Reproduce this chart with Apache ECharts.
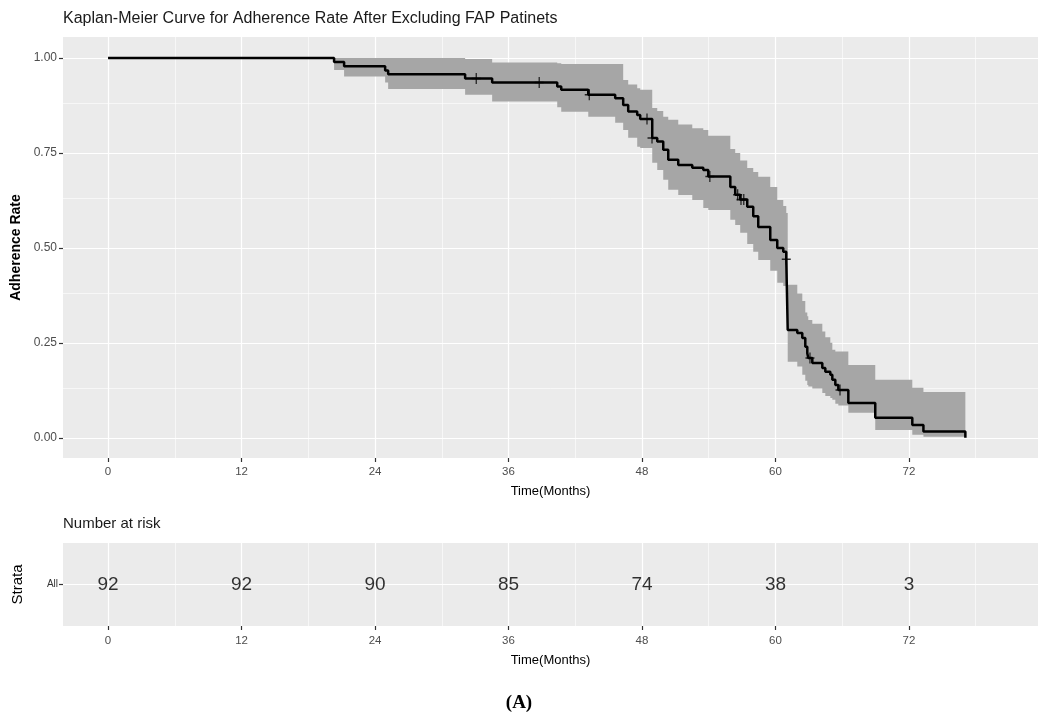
<!DOCTYPE html>
<html><head><meta charset="utf-8">
<script src="https://cdn.jsdelivr.net/npm/echarts@6/dist/echarts.min.js"></script>
<style>html,body{margin:0;padding:0;background:#fff}#c{width:1038px;height:725px}</style>
</head><body><div id="c"></div>
<script>
// Kaplan-Meier step times (months) and survival after each step
const kmTime = [0, 20.32, 21.22, 24.91, 25.18, 32.10, 34.53, 40.38, 40.74, 43.17, 45.59, 46.31, 46.76, 47.57, 47.84, 48.92, 49.37, 49.91, 50.36, 51.26, 52.52, 53.51, 53.96, 55.94, 56.38, 56.83, 57.46, 58.00, 58.45, 59.53, 60.16, 60.70, 60.97, 61.10, 61.96, 62.41, 62.68, 62.86, 62.95, 63.31, 64.21, 64.48, 64.93, 65.11, 65.38, 65.65, 66.55, 68.97, 72.30, 73.30, 77.07];
const kmSurv = [1, 0.989, 0.978, 0.967, 0.957, 0.946, 0.935, 0.925, 0.916, 0.903, 0.894, 0.876, 0.859, 0.850, 0.839, 0.789, 0.780, 0.758, 0.732, 0.718, 0.711, 0.705, 0.688, 0.660, 0.640, 0.627, 0.608, 0.583, 0.555, 0.521, 0.500, 0.490, 0.470, 0.284, 0.276, 0.263, 0.240, 0.223, 0.210, 0.197, 0.184, 0.174, 0.166, 0.153, 0.139, 0.126, 0.092, 0.053, 0.034, 0.017, 0.000];
const ciUpper = [1, 1, 1, 1, 1, 0.997, 0.988, 0.986, 0.984, 0.984, 0.984, 0.942, 0.930, 0.920, 0.916, 0.868, 0.860, 0.845, 0.837, 0.825, 0.815, 0.810, 0.795, 0.760, 0.750, 0.730, 0.710, 0.700, 0.687, 0.660, 0.626, 0.610, 0.592, 0.403, 0.380, 0.360, 0.330, 0.320, 0.310, 0.300, 0.280, 0.265, 0.250, 0.232, 0.227, 0.227, 0.192, 0.153, 0.132, 0.121, 0.121];
const ciLower = [1, 0.968, 0.951, 0.935, 0.918, 0.903, 0.885, 0.870, 0.858, 0.845, 0.829, 0.810, 0.790, 0.766, 0.763, 0.724, 0.705, 0.679, 0.653, 0.639, 0.626, 0.605, 0.600, 0.574, 0.560, 0.540, 0.510, 0.490, 0.468, 0.440, 0.408, 0.400, 0.397, 0.200, 0.188, 0.166, 0.150, 0.139, 0.135, 0.130, 0.118, 0.110, 0.105, 0.100, 0.090, 0.085, 0.066, 0.021, 0.008, 0.003, 0.003];
// Censored observations
const censorTime = [33.1, 38.76, 43.26, 48.45, 48.9, 54.1, 56.6, 56.9, 57.15, 60.97, 63.1, 65.8];
const censorSurv = [0.946, 0.935, 0.903, 0.839, 0.789, 0.688, 0.640, 0.627, 0.627, 0.470, 0.210, 0.126];
// Axes
const xTicks = [0, 12, 24, 36, 48, 60, 72];
const xMinor = [6, 18, 30, 42, 54, 66, 78];
const yTicks = [0, 0.25, 0.5, 0.75, 1];
const yMinor = [0.125, 0.375, 0.625, 0.875];
// Risk table
const riskTimes = [0, 12, 24, 36, 48, 60, 72];
const riskCounts = [92, 92, 90, 85, 74, 38, 3];
const strata = ['All'];

const FONT = "'Liberation Sans', Arial, sans-serif";
const X_MIN = -4.05, X_MAX = 83.6;

function gridLines(xs, ys, w) {
  const d = [];
  xs.forEach(v => d.push({ xAxis: v, lineStyle: { width: w } }));
  ys.forEach(v => d.push({ yAxis: v, lineStyle: { width: w } }));
  return d;
}

function bandItem(params, api) {
  const up = [], lo = [];
  for (let i = 0; i < kmTime.length; i++) {
    up.push(api.coord([kmTime[i], ciUpper[i]]));
    lo.push(api.coord([kmTime[i], ciLower[i]]));
    if (i + 1 < kmTime.length) {
      up.push(api.coord([kmTime[i + 1], ciUpper[i]]));
      lo.push(api.coord([kmTime[i + 1], ciLower[i]]));
    }
  }
  return { type: 'polygon', shape: { points: up.concat(lo.reverse()) }, style: { fill: '#a6a6a6' } };
}

const tickStyle = { show: true, length: 4, lineStyle: { color: '#333', width: 1.2 } };
const noLine = { show: false, onZero: false };

const chart = echarts.init(document.getElementById('c'), null, { renderer: 'canvas' });
const option = {
  animation: false,
  backgroundColor: '#ffffff',
  textStyle: { fontFamily: FONT },
  title: [
    { text: 'Kaplan-Meier Curve for Adherence Rate After Excluding FAP Patinets', left: 63, top: 11, padding: 0,
      textStyle: { fontSize: 16, fontWeight: 'normal', color: '#1a1a1a', fontFamily: FONT } },
    { text: 'Number at risk', left: 63, top: 516, padding: 0,
      textStyle: { fontSize: 15, fontWeight: 'normal', color: '#1a1a1a', fontFamily: FONT } },
    { text: '(A)', left: 'center', top: 694, padding: 0,
      textStyle: { fontSize: 19, fontWeight: 'bold', color: '#000', fontFamily: "'Liberation Serif', 'DejaVu Serif', serif" } }
  ],
  grid: [
    { left: 63, top: 37, width: 975, height: 421, show: true, backgroundColor: '#EBEBEB', borderWidth: 0, containLabel: false },
    { left: 63, top: 543, width: 975, height: 83, show: true, backgroundColor: '#EBEBEB', borderWidth: 0, containLabel: false }
  ],
  xAxis: [
    { type: 'value', gridIndex: 0, min: X_MIN, max: X_MAX, position: 'bottom',
      name: 'Time(Months)', nameLocation: 'middle', nameGap: 27,
      nameTextStyle: { fontSize: 13, color: '#000', fontFamily: FONT },
      axisLine: noLine, splitLine: { show: false },
      axisTick: Object.assign({ customValues: xTicks }, tickStyle),
      axisLabel: { customValues: xTicks, fontSize: 11.5, color: '#4d4d4d', margin: 8, fontFamily: FONT } },
    { type: 'value', gridIndex: 1, min: X_MIN, max: X_MAX, position: 'bottom',
      name: 'Time(Months)', nameLocation: 'middle', nameGap: 28,
      nameTextStyle: { fontSize: 13, color: '#000', fontFamily: FONT },
      axisLine: noLine, splitLine: { show: false },
      axisTick: Object.assign({ customValues: xTicks }, tickStyle),
      axisLabel: { customValues: xTicks, fontSize: 11.5, color: '#4d4d4d', margin: 9, fontFamily: FONT } }
  ],
  yAxis: [
    { type: 'value', gridIndex: 0, min: -0.053, max: 1.055, position: 'left',
      name: 'Adherence Rate', nameLocation: 'middle', nameGap: 38, nameRotate: 90,
      nameTextStyle: { fontSize: 14, fontWeight: 'bold', color: '#000', fontFamily: FONT },
      axisLine: noLine, splitLine: { show: false },
      axisTick: Object.assign({ customValues: yTicks }, tickStyle),
      axisLabel: { customValues: yTicks, fontSize: 12, color: '#4d4d4d', margin: 6, fontFamily: FONT,
                   formatter: v => Number(v).toFixed(2) } },
    { type: 'category', gridIndex: 1, data: strata, position: 'left',
      name: 'Strata', nameLocation: 'middle', nameGap: 38, nameRotate: 90,
      nameTextStyle: { fontSize: 15, color: '#000', fontFamily: FONT },
      axisLine: noLine, splitLine: { show: false },
      axisTick: Object.assign({ alignWithLabel: true }, tickStyle),
      axisLabel: { fontSize: 10, color: '#333', margin: 5, fontFamily: FONT } }
  ],
  series: [
    { type: 'line', xAxisIndex: 0, yAxisIndex: 0, data: [], silent: true, z: 1,
      markLine: { silent: true, symbol: 'none', label: { show: false }, animation: false, z: 1,
        lineStyle: { color: '#ffffff', type: 'solid' },
        data: gridLines(xTicks, yTicks, 1.2).concat(gridLines(xMinor, yMinor, 0.6)) } },
    { type: 'line', xAxisIndex: 1, yAxisIndex: 1, data: [], silent: true, z: 1,
      markLine: { silent: true, symbol: 'none', label: { show: false }, animation: false, z: 1,
        lineStyle: { color: '#ffffff', type: 'solid' },
        data: gridLines(xTicks, strata, 1.2).concat(gridLines(xMinor, [], 0.6)) } },
    { name: 'band', type: 'custom', xAxisIndex: 0, yAxisIndex: 0, data: [[kmTime[0], ciUpper[0]]],
      renderItem: bandItem, z: 2, silent: true },
    { name: 'KM', type: 'line', xAxisIndex: 0, yAxisIndex: 0, step: 'end',
      data: kmTime.map((t, i) => [t, kmSurv[i]]), showSymbol: false, symbol: 'none',
      lineStyle: { color: '#000', width: 2.5 }, z: 3, silent: true },
    { name: 'censor', type: 'scatter', xAxisIndex: 0, yAxisIndex: 0,
      data: censorTime.map((t, i) => [t, censorSurv[i]]),
      symbol: 'path://M5,0V10M0,5H10', symbolSize: [9, 11],
      itemStyle: { color: 'rgba(0,0,0,0)', borderColor: '#000', borderWidth: 1.4 }, z: 4, silent: true },
    { name: 'risk', type: 'scatter', xAxisIndex: 1, yAxisIndex: 1,
      data: riskTimes.map((t, i) => [t, strata[0], riskCounts[i]]),
      symbolSize: 0, z: 4, silent: true,
      label: { show: true, position: 'inside', formatter: p => String(p.data[2]),
               fontSize: 19, color: '#000', fontFamily: FONT } }
  ]
};
chart.setOption(option);
</script>
</body></html>
